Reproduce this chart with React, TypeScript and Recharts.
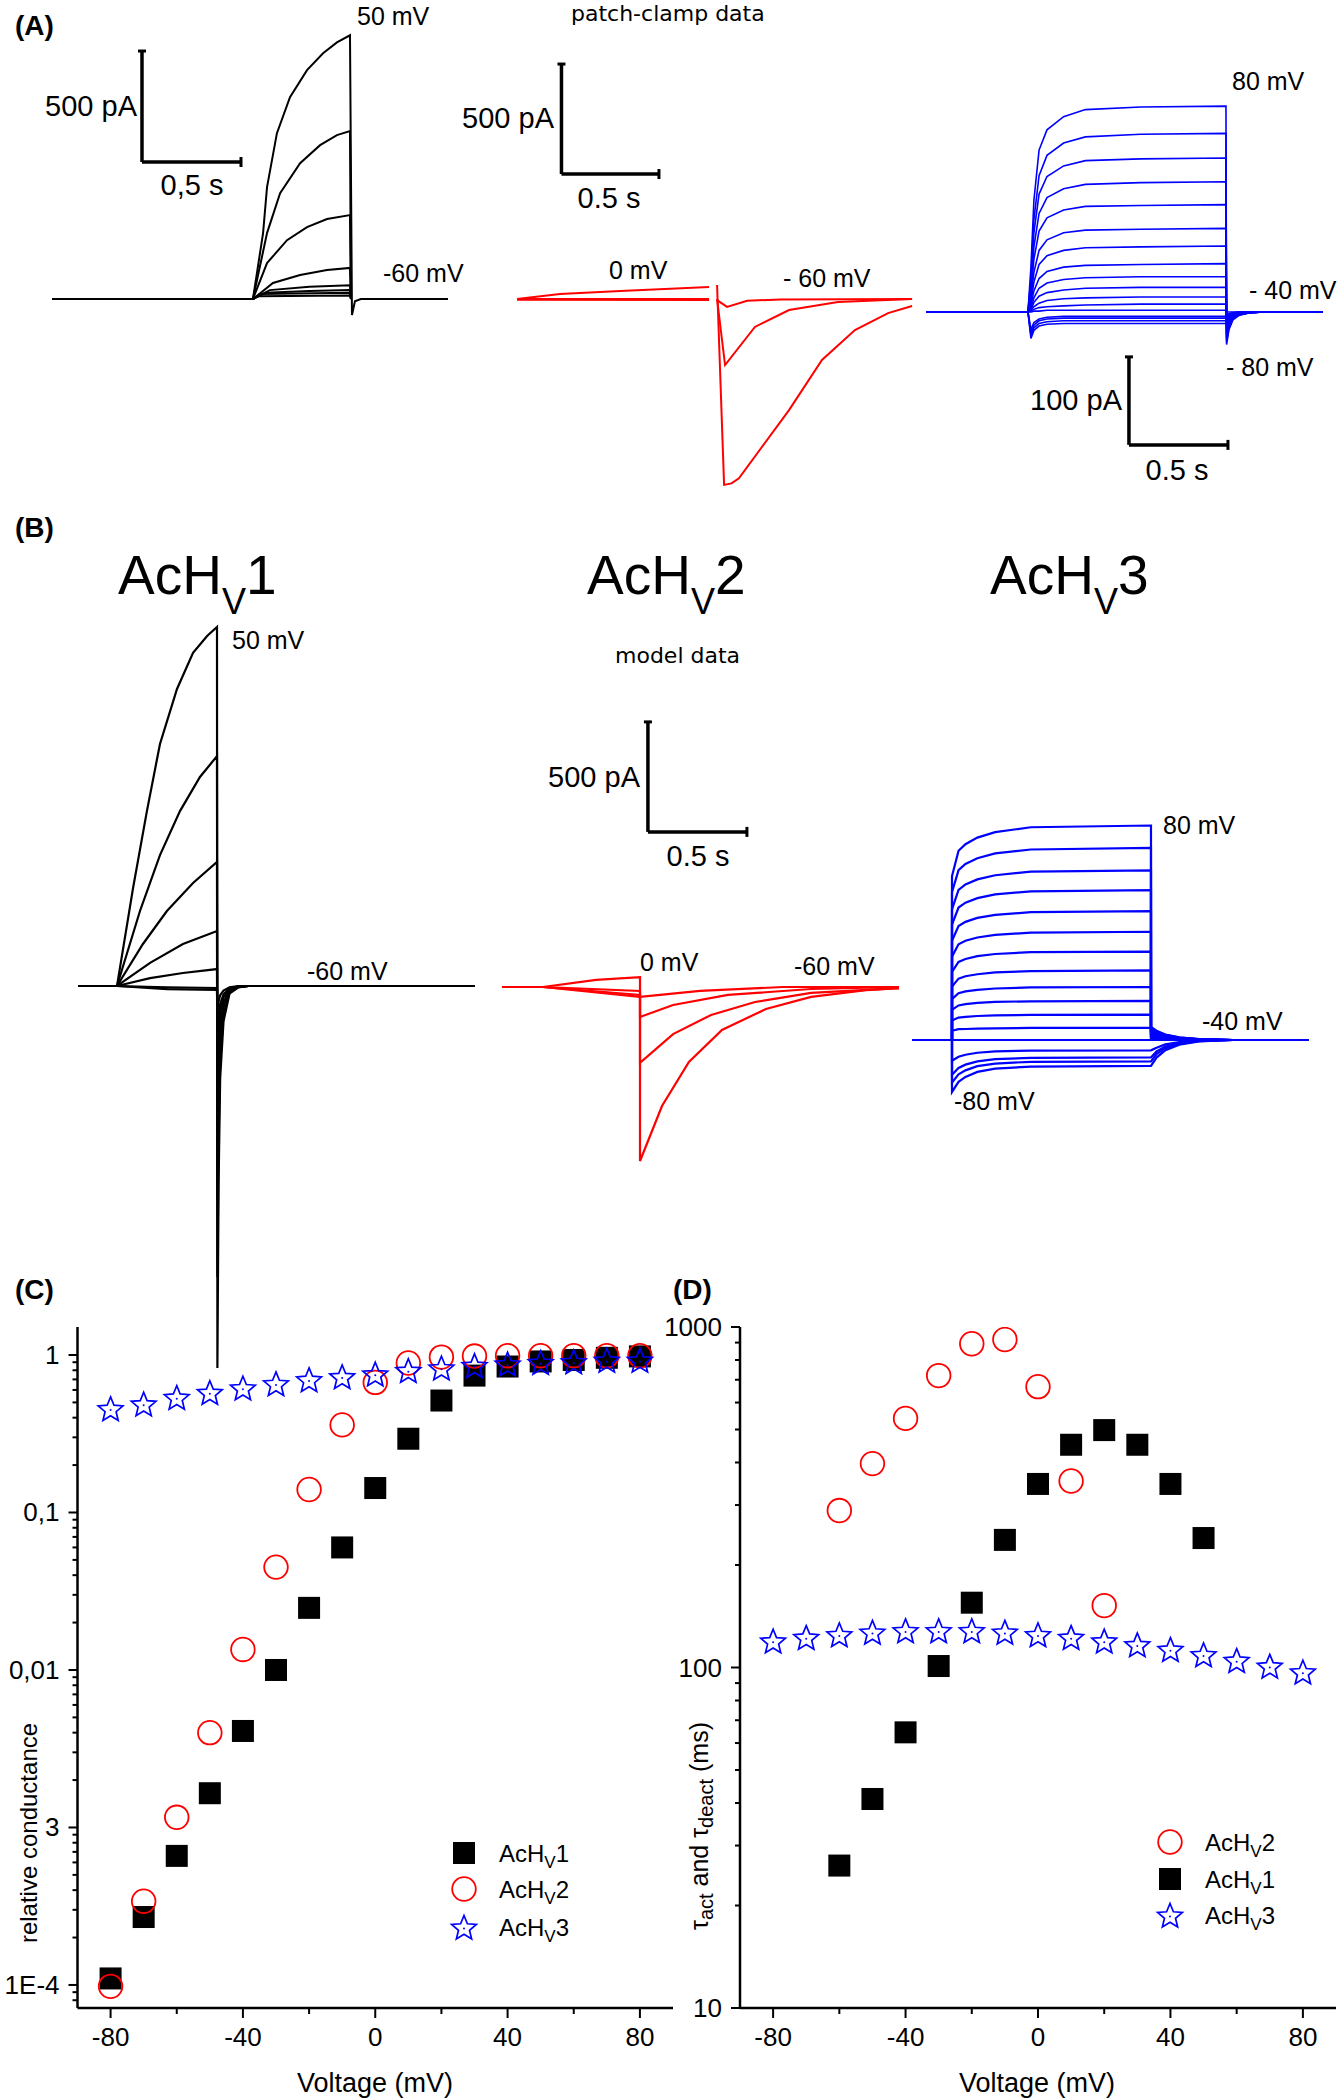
import React from 'react';
import {
  LineChart,
  Line,
  XAxis,
  YAxis,
  ReferenceLine,
  ScatterChart,
  Scatter,
} from 'recharts';

const FONT = 'Arial, "Liberation Sans", Helvetica, sans-serif';
const NOTE_FONT = '"DejaVu Sans", Verdana, sans-serif';
const BLACK = '#000000';
const RED = '#ff0000';
const BLUE = '#0000ff';

type Pt = [number, number | null];

// ---------- (C) relative conductance ----------
const VOLTAGES = [-80, -70, -60, -50, -40, -30, -20, -10, 0, 10, 20, 30, 40, 50, 60, 70, 80];
const G_ACHV1 = [1.1e-4, 2.7e-4, 6.6e-4, 1.65e-3, 4.1e-3, 0.01, 0.0248, 0.06, 0.143, 0.294, 0.514, 0.74, 0.845, 0.91, 0.93, 0.96, 0.98];
const G_ACHV2 = [0.98e-4, 3.4e-4, 1.16e-3, 4.0e-3, 0.0135, 0.045, 0.14, 0.36, 0.67, 0.89, 0.97, 0.985, 0.99, 0.99, 0.99, 0.99, 0.99];
const G_ACHV3 = [0.458, 0.49, 0.54, 0.58, 0.62, 0.66, 0.7, 0.73, 0.76, 0.8, 0.83, 0.86, 0.88, 0.9, 0.91, 0.93, 0.93];

// ---------- (D) time constants (ms) ----------
const TAU_V1 = [-60, -50, -40, -30, -20, -10, 0, 10, 20, 30, 40, 50];
const TAU_ACHV1 = [26.2, 41.1, 64.5, 101, 155, 237, 346, 451, 498, 451, 346, 240];
const TAU_V2 = [-60, -50, -40, -30, -20, -10, 0, 10, 20];
const TAU_ACHV2 = [289, 397, 539, 720, 893, 919, 668, 353, 152];
const TAU_ACHV3 = [119.8, 122.8, 125, 127.2, 128.5, 128.5, 128.5, 127.2, 125, 122.8, 119.8, 116.8, 113.2, 109.2, 105.1, 101.1, 97.2];

const X_TICKS = [-80, -60, -40, -20, 0, 20, 40, 60, 80];
const X_LABELLED = [-80, -40, 0, 40, 80];
const C_Y_LABELS: Record<number, string> = { [-4]: '1E-4', [-3]: '3', [-2]: '0,01', [-1]: '0,1', 0: '1' };
const D_Y_LABELS: Record<number, string> = { 1: '10', 2: '100', 3: '1000' };

// ---------- (A) patch-clamp traces: t in s, current in pA ----------
const A1_TRACES: Pt[][] = [
  [[0, 0], [1.015, 0], [1.066, 297], [1.086, 504], [1.136, 747], [1.202, 909], [1.288, 1031], [1.369, 1107], [1.439, 1156], [1.505, 1188], [1.515, -72], [1.53, -10], [1.56, 0], [2.0, 0]],
  [[1.015, 0], [1.086, 297], [1.152, 477], [1.253, 612], [1.354, 693], [1.439, 738], [1.505, 756], [1.51, 0]],
  [[1.015, 0], [1.086, 162], [1.187, 265], [1.288, 324], [1.389, 360], [1.505, 378], [1.51, 0]],
  [[1.015, 0], [1.116, 72], [1.253, 108], [1.389, 131], [1.505, 140], [1.51, 0]],
  [[1.015, 0], [1.1, 40], [1.3, 55], [1.505, 62], [1.51, 0]],
  [[1.015, 0], [1.08, 28], [1.3, 36], [1.505, 40], [1.51, 0]],
  [[1.015, 0], [1.05, 22], [1.505, 28], [1.51, 0]],
  [[1.015, 0], [1.04, 12], [1.505, 16], [1.51, 0]],
];

const A2_TRACES: Pt[][] = [
  [[0, 0], [0.22, 23], [0.53, 36], [0.985, 55], [1.0, null], [1.026, 64], [1.062, -845], [1.1, -838], [1.138, -815], [1.395, -505], [1.564, -277], [1.733, -141], [1.903, -64], [2.026, -32]],
  [[0, 0], [0.985, 0], [1.0, null], [1.026, 0], [1.067, -300], [1.22, -127], [1.395, -50], [1.646, -14], [2.026, 0]],
  [[0, -3], [0.985, -5], [1.0, null], [1.026, -5], [1.077, -36], [1.18, -8], [1.35, -2], [2.026, 0]],
];

const A3_PULSE_T = [0.515, 0.53, 0.545, 0.571, 0.611, 0.695, 0.805, 1.085, 1.515];
const A3_PULSE = [
  [0, 51, 127, 184, 207, 222, 230, 233, 234],
  [0, 40, 105, 155, 178, 192, 199, 202, 203],
  [0, 34, 90, 134, 154, 166, 172, 174, 175],
  [0, 28, 74, 112, 130, 140, 145, 147, 148],
  [0, 22, 60, 92, 107, 116, 120, 121, 122],
  [0, 16, 45, 70, 82, 90, 93, 94, 95],
  [0, 12, 34, 54, 64, 70, 73, 74, 75],
  [0, 8, 24, 38, 46, 51, 53, 54, 55],
  [0, 5, 16, 27, 33, 37, 39, 40, 40],
  [0, 3, 11, 18, 22, 25, 27, 28, 28],
  [0, 2, 6, 10, 13, 15, 16, 17, 17],
  [0, 1, 3, 5, 6, 7, 8, 9, 9],
  [0, 0, 1, 1, 2, 2, 2, 2, 2],
  [0, -20, -12, -8, -6, -5, -5, -5, -5],
  [0, -24, -15, -10, -8, -7, -7, -7, -7],
  [0, -27, -18, -13, -11, -10, -10, -10, -10],
  [0, -30, -21, -16, -14, -13, -13, -13, -13],
];
const A3_TAIL_T = [1.518, 1.53, 1.55, 1.58, 1.63, 1.7, 2.005];
const A3_TAIL = [
  [-37, -20, -9, -4, -1, 0, 0],
  [-34, -18, -8, -3, -1, 0, 0],
  [-31, -16, -7, -3, -1, 0, 0],
  [-28, -14, -6, -3, -1, 0, 0],
  [-25, -12, -5, -2, 0, 0, 0],
  [-22, -10, -4, -2, 0, 0, 0],
  [-19, -9, -4, -1, 0, 0, 0],
  [-16, -8, -3, -1, 0, 0, 0],
  [-13, -6, -3, -1, 0, 0, 0],
  [-10, -5, -2, -1, 0, 0, 0],
  [-7, -3, -1, 0, 0, 0, 0],
  [-4, -2, -1, 0, 0, 0, 0],
  [0, 0, 0, 0, 0, 0, 0],
  [-4, -3, -2, -1, 0, 0, 0],
  [-7, -5, -3, -1, 0, 0, 0],
  [-10, -7, -4, -2, 0, 0, 0],
  [-13, -9, -5, -2, -1, 0, 0],
];

// ---------- (B) model traces ----------
const B1_PULSE: Pt[][] = [
  [[0.197, 0], [0.278, 445], [0.348, 795], [0.414, 1100], [0.5, 1350], [0.581, 1514], [0.652, 1591], [0.702, 1632]],
  [[0.197, 0], [0.313, 341], [0.414, 595], [0.515, 795], [0.616, 950], [0.702, 1045]],
  [[0.197, 0], [0.328, 191], [0.449, 341], [0.581, 468], [0.702, 564]],
  [[0.197, 0], [0.364, 105], [0.53, 191], [0.702, 250]],
  [[0.197, 0], [0.364, 36], [0.53, 59], [0.702, 77]],
  [[0.197, 0], [0.45, -6], [0.702, -9]],
  [[0.197, 0], [0.45, -14], [0.702, -18]],
];
const B1_TAIL_T = [0.704, 0.71, 0.718, 0.735, 0.765, 0.81, 0.86];
const B1_TAIL = [
  [-1736, -900, -420, -160, -35, -6, 0],
  [-1323, -700, -330, -130, -30, -5, 0],
  [-973, -520, -250, -100, -24, -4, 0],
  [-654, -360, -180, -75, -18, -3, 0],
  [-391, -230, -120, -52, -13, -2, 0],
  [-245, -150, -82, -38, -10, -2, 0],
  [-109, -70, -42, -21, -6, -1, 0],
];

const B2_PULSE: Pt[][] = [
  [[0.207, 0], [0.475, 32], [0.697, 45]],
  [[0.207, 0], [0.697, -18]],
  [[0.207, 0], [0.697, -36]],
  [[0.207, 0], [0.697, -45]],
];
const B2_TAIL: Pt[][] = [
  [[0.697, -791], [0.808, -541], [0.944, -341], [1.111, -195], [1.333, -100], [1.561, -45], [1.838, -14], [2.005, -5]],
  [[0.697, -345], [0.864, -214], [1.056, -127], [1.278, -68], [1.561, -27], [2.005, -5]],
  [[0.697, -136], [0.864, -82], [1.141, -36], [1.561, -9], [2.005, 0]],
  [[0.697, -45], [1.0, -18], [1.419, 0], [2.005, 0]],
];

const B3_PULSE_T = [0.202, 0.235, 0.27, 0.33, 0.42, 0.6, 1.207];
const B3_PULSE = [
  [745, 860, 890, 920, 945, 967, 975],
  [672, 772, 800, 826, 848, 866, 873],
  [594, 682, 707, 730, 749, 765, 771],
  [524, 602, 624, 645, 662, 676, 681],
  [451, 518, 537, 555, 569, 581, 586],
  [379, 435, 451, 466, 478, 488, 492],
  [310, 355, 368, 381, 391, 399, 402],
  [243, 279, 290, 299, 307, 313, 316],
  [186, 213, 221, 228, 234, 239, 241],
  [137, 157, 163, 169, 173, 176, 178],
  [89, 102, 105, 109, 112, 114, 115],
  [42, 49, 50, 52, 53, 55, 55],
  [0, 0, 0, 0, 0, 0, 0],
  [-94, -76, -67, -58, -52, -48, -47],
  [-158, -127, -112, -97, -87, -81, -79],
  [-194, -156, -138, -119, -107, -99, -97],
  [-236, -190, -168, -145, -130, -121, -118],
];
const B3_TAIL_T = [1.207, 1.235, 1.28, 1.35, 1.45, 1.62, 2.005];
const B3_TAIL = [
  [59, 42, 25, 12, 4, 0, 0],
  [54, 38, 23, 11, 4, 0, 0],
  [49, 35, 21, 10, 3, 0, 0],
  [44, 31, 18, 9, 3, 0, 0],
  [39, 27, 16, 8, 2, 0, 0],
  [34, 24, 14, 7, 2, 0, 0],
  [29, 20, 12, 6, 2, 0, 0],
  [24, 17, 10, 5, 1, 0, 0],
  [19, 13, 8, 4, 1, 0, 0],
  [14, 10, 6, 3, 1, 0, 0],
  [9, 6, 4, 2, 0, 0, 0],
  [4, 3, 2, 1, 0, 0, 0],
  [0, 0, 0, 0, 0, 0, 0],
  [-47, -35, -20, -9, -3, 0, 0],
  [-79, -52, -30, -14, -4, 0, 0],
  [-97, -64, -37, -17, -5, 0, 0],
  [-118, -80, -46, -21, -6, 0, 0],
];

// scale bars (corner in s / pA, lengths in s / pA)
const A1_BAR = { t: 0.4545, i: 617, dt: 0.5, di: 500 };
const A2_BAR = { t: 0.228, i: 568, dt: 0.5, di: 500 };
const A3_BAR = { t: 1.025, i: -151, dt: 0.5, di: 100 };
const B2_BAR = { t: 0.737, i: 705, dt: 0.5, di: 500 };

// page placement and pixel scale of each trace panel
const A1_FRAME = { box: { left: 40, top: 20, width: 420, height: 310 }, x0: 52, y0: 299, pxPerS: 198, pxPerPA: 0.222 };
const A2_FRAME = { box: { left: 505, top: 55, width: 420, height: 440 }, x0: 517, y0: 299, pxPerS: 195, pxPerPA: 0.22 };
const A3_FRAME = { box: { left: 915, top: 95, width: 420, height: 360 }, x0: 926, y0: 312, pxPerS: 198, pxPerPA: 0.88 };
const B1_FRAME = { box: { left: 65, top: 615, width: 420, height: 765 }, x0: 78, y0: 986, pxPerS: 198, pxPerPA: 0.22 };
const B2_FRAME = { box: { left: 490, top: 710, width: 420, height: 465 }, x0: 502, y0: 987, pxPerS: 198, pxPerPA: 0.22 };
const B3_FRAME = { box: { left: 900, top: 815, width: 420, height: 290 }, x0: 912, y0: 1040, pxPerS: 198, pxPerPA: 0.22 };

const zip = (ts: number[], vs: number[]): Pt[] => ts.map((t, k) => [t, vs[k]]);
const toRows = (pts: Pt[]) => pts.map(([t, i]) => ({ t, i }));

const A3_TRACES: Pt[][] = A3_PULSE.map((row, k) => [[0, 0], ...zip(A3_PULSE_T, row), ...zip(A3_TAIL_T, A3_TAIL[k])]);
const B1_TRACES: Pt[][] = B1_PULSE.map((p, k) => [[0, 0], ...p, ...zip(B1_TAIL_T, B1_TAIL[k]), [2.005, 0]]);
const B2_TRACES: Pt[][] = B2_PULSE.map((p, k) => [[0, 0], ...p, ...B2_TAIL[k]]);
const B3_TRACES: Pt[][] = B3_PULSE.map((row, k) => [[0, 0], [0.202, 0], ...zip(B3_PULSE_T, row), ...zip(B3_TAIL_T, B3_TAIL[k])]);

const logTicks = (lo: number, hi: number) => {
  const out: number[] = [];
  for (let e = Math.floor(Math.log10(lo)); e <= Math.ceil(Math.log10(hi)); e++) {
    for (let m = 1; m < 10; m++) {
      const v = m * Math.pow(10, e);
      if (v >= lo * 0.999 && v <= hi * 1.001) out.push(v);
    }
  }
  return out;
};

// ---------- markers ----------
const square = (cx: number, cy: number) => <rect x={cx - 11} y={cy - 11} width={22} height={22} fill={BLACK} />;
const ring = (cx: number, cy: number) => (
  <circle cx={cx} cy={cy} r={11.8} fill="none" stroke={RED} strokeWidth={1.8} />
);
const star = (cx: number, cy: number) => {
  const pts: string[] = [];
  for (let k = 0; k < 10; k++) {
    const r = k % 2 === 0 ? 13 : 5.8;
    const a = -Math.PI / 2 + (k * Math.PI) / 5;
    pts.push(`${(cx + r * Math.cos(a)).toFixed(2)},${(cy + 1.5 + r * Math.sin(a)).toFixed(2)}`);
  }
  return (
    <g>
      <polygon points={pts.join(' ')} fill="none" stroke={BLUE} strokeWidth={1.7} strokeLinejoin="miter" />
      <circle cx={cx} cy={cy + 1.5} r={1} fill={BLUE} />
    </g>
  );
};

function TracePanel({ frame, traces, color, width, bar }: any) {
  const { box, x0, y0, pxPerS, pxPerPA } = frame;
  const xDomain = [(box.left - x0) / pxPerS, (box.left + box.width - x0) / pxPerS];
  const yDomain = [(y0 - box.top - box.height) / pxPerPA, (y0 - box.top) / pxPerPA];
  const capT = 4 / pxPerS;
  const capI = 5 / pxPerPA;
  return (
    <div style={{ position: 'absolute', left: box.left, top: box.top }}>
      <LineChart width={box.width} height={box.height} margin={{ top: 0, right: 0, bottom: 0, left: 0 }}>
        <XAxis type="number" dataKey="t" domain={xDomain} allowDataOverflow hide />
        <YAxis type="number" domain={yDomain} allowDataOverflow hide />
        {traces.map((tr: Pt[], k: number) => (
          <Line
            key={k}
            data={toRows(tr)}
            dataKey="i"
            stroke={color}
            strokeWidth={width}
            dot={false}
            activeDot={false}
            isAnimationActive={false}
          />
        ))}
        {bar
          ? [
              <ReferenceLine key="v" segment={[{ x: bar.t, y: bar.i }, { x: bar.t, y: bar.i + bar.di }]} stroke={BLACK} strokeWidth={3.5} />,
              <ReferenceLine key="h" segment={[{ x: bar.t, y: bar.i }, { x: bar.t + bar.dt, y: bar.i }]} stroke={BLACK} strokeWidth={3.5} />,
              <ReferenceLine key="cv" segment={[{ x: bar.t - capT, y: bar.i + bar.di }, { x: bar.t + capT, y: bar.i + bar.di }]} stroke={BLACK} strokeWidth={3} />,
              <ReferenceLine key="ch" segment={[{ x: bar.t + bar.dt, y: bar.i - capI }, { x: bar.t + bar.dt, y: bar.i + capI }]} stroke={BLACK} strokeWidth={3} />,
            ]
          : null}
      </LineChart>
    </div>
  );
}

const xTick = (props: any) => {
  const { x, y, payload } = props;
  const major = X_LABELLED.includes(payload.value);
  return (
    <g>
      <line x1={x} x2={x} y1={y} y2={y + (major ? 10 : 6)} stroke={BLACK} strokeWidth={2} />
      {major ? (
        <text x={x} y={y + 38} textAnchor="middle" fontSize={26} fontFamily={FONT} fill={BLACK}>
          {payload.value}
        </text>
      ) : null}
    </g>
  );
};

const makeYTick = (labels: Record<number, string>) => (props: any) => {
  const { x, y, payload } = props;
  const lg = Math.log10(payload.value);
  const e = Math.round(lg);
  const major = Math.abs(lg - e) < 1e-6;
  return (
    <g>
      <line x1={x} x2={x - (major ? 9 : 5)} y1={y} y2={y} stroke={BLACK} strokeWidth={2} />
      {major ? (
        <text x={x - 18} y={y + 9} textAnchor="end" fontSize={26} fontFamily={FONT} fill={BLACK}>
          {labels[e]}
        </text>
      ) : null}
    </g>
  );
};

const AXIS = { stroke: BLACK, strokeWidth: 2.5 };
const pts = (xs: number[], ys: number[]) => xs.map((v, k) => ({ v, y: ys[k] }));

function PanelC() {
  const yDomain = [7.14e-5, 1.506];
  return (
    <div style={{ position: 'absolute', left: 0, top: 1300 }}>
      <ScatterChart width={700} height={800} margin={{ top: 27, right: 27, bottom: 32, left: 7.5 }}>
        <XAxis type="number" dataKey="v" domain={[-90, 90]} ticks={X_TICKS} interval={0} tick={xTick}
          tickLine={false} tickSize={0} tickMargin={0} axisLine={AXIS} height={60} allowDataOverflow />
        <YAxis type="number" dataKey="y" scale="log" domain={yDomain} ticks={logTicks(yDomain[0], yDomain[1])}
          interval={0} tick={makeYTick(C_Y_LABELS)} tickLine={false} tickSize={0} tickMargin={0}
          axisLine={AXIS} width={70} allowDataOverflow />
        <Scatter data={pts(VOLTAGES, G_ACHV1)} shape={(p: any) => square(p.cx, p.cy)} isAnimationActive={false} />
        <Scatter data={pts(VOLTAGES, G_ACHV2)} shape={(p: any) => ring(p.cx, p.cy)} isAnimationActive={false} />
        <Scatter data={pts(VOLTAGES, G_ACHV3)} shape={(p: any) => star(p.cx, p.cy)} isAnimationActive={false} />
      </ScatterChart>
    </div>
  );
}

function PanelD() {
  const yDomain = [10, 1000];
  return (
    <div style={{ position: 'absolute', left: 640, top: 1300 }}>
      <ScatterChart width={704} height={800} margin={{ top: 27, right: 8, bottom: 32, left: 5 }}>
        <XAxis type="number" dataKey="v" domain={[-90, 90]} ticks={X_TICKS} interval={0} tick={xTick}
          tickLine={false} tickSize={0} tickMargin={0} axisLine={AXIS} height={60} allowDataOverflow />
        <YAxis type="number" dataKey="y" scale="log" domain={yDomain} ticks={logTicks(yDomain[0], yDomain[1])}
          interval={0} tick={makeYTick(D_Y_LABELS)} tickLine={false} tickSize={0} tickMargin={0}
          axisLine={AXIS} width={95} allowDataOverflow />
        <Scatter data={pts(TAU_V1, TAU_ACHV1)} shape={(p: any) => square(p.cx, p.cy)} isAnimationActive={false} />
        <Scatter data={pts(TAU_V2, TAU_ACHV2)} shape={(p: any) => ring(p.cx, p.cy)} isAnimationActive={false} />
        <Scatter data={pts(VOLTAGES, TAU_ACHV3)} shape={(p: any) => star(p.cx, p.cy)} isAnimationActive={false} />
      </ScatterChart>
    </div>
  );
}

const T = ({ x, y, size = 25, anchor = 'start', bold = false, family = FONT, children }: any) => (
  <text x={x} y={y} fontSize={size} textAnchor={anchor} fontWeight={bold ? 'bold' : 'normal'} fontFamily={family} fill={BLACK}>
    {children}
  </text>
);

const Title = ({ x, n }: { x: number; n: string }) => (
  <text x={x} y={594} fontSize={55} fontFamily={FONT} fill={BLACK}>
    AcH<tspan fontSize={36} dy={20}>V</tspan>
    <tspan dy={-20}>{n}</tspan>
  </text>
);

const LegendRow = ({ x, y, mark, n }: any) => (
  <g>
    {mark(x, y)}
    <text x={x + 35} y={y + 8.5} fontSize={24} fontFamily={FONT} fill={BLACK}>
      AcH<tspan fontSize={17} dy={6}>V</tspan>
      <tspan dy={-6}>{n}</tspan>
    </text>
  </g>
);

function Overlay() {
  return (
    <svg width={1344} height={2100} style={{ position: 'absolute', left: 0, top: 0, pointerEvents: 'none' }}>
      <T x={15} y={35} size={28} bold>(A)</T>
      <T x={15} y={537} size={28} bold>(B)</T>
      <T x={15} y={1299} size={28} bold>(C)</T>
      <T x={673} y={1299} size={28} bold>(D)</T>

      <T x={571} y={21} size={22} family={NOTE_FONT}>patch-clamp data</T>
      <T x={615} y={663} size={22} family={NOTE_FONT}>model data</T>

      <T x={137} y={116} size={29} anchor="end">500 pA</T>
      <T x={192} y={195} size={29} anchor="middle">0,5 s</T>
      <T x={357} y={25}>50 mV</T>
      <T x={383} y={282}>-60 mV</T>

      <T x={554} y={128} size={29} anchor="end">500 pA</T>
      <T x={609} y={208} size={29} anchor="middle">0.5 s</T>
      <T x={609} y={279}>0 mV</T>
      <T x={783} y={287}>- 60 mV</T>

      <T x={1232} y={90}>80 mV</T>
      <T x={1249} y={299}>- 40 mV</T>
      <T x={1226} y={376}>- 80 mV</T>
      <T x={1122} y={410} size={29} anchor="end">100 pA</T>
      <T x={1177} y={480} size={29} anchor="middle">0.5 s</T>

      <Title x={118} n="1" />
      <Title x={587} n="2" />
      <Title x={990} n="3" />
      <T x={232} y={649}>50 mV</T>
      <T x={307} y={980}>-60 mV</T>
      <T x={640} y={787} size={29} anchor="end">500 pA</T>
      <T x={698} y={866} size={29} anchor="middle">0.5 s</T>
      <T x={640} y={971}>0 mV</T>
      <T x={794} y={975}>-60 mV</T>
      <T x={1163} y={834}>80 mV</T>
      <T x={1202} y={1030}>-40 mV</T>
      <T x={954} y={1110}>-80 mV</T>

      <text x={37} y={1833} transform="rotate(-90 37 1833)" textAnchor="middle" fontSize={24} fontFamily={FONT} fill={BLACK}>
        relative conductance
      </text>
      <T x={375} y={2092} size={27} anchor="middle">Voltage (mV)</T>
      <text x={708} y={1826} transform="rotate(-90 708 1826)" textAnchor="middle" fontSize={25} fontFamily={FONT} fill={BLACK}>
        τ<tspan fontSize={20} dy={5}>act</tspan>
        <tspan dy={-5}> and τ</tspan>
        <tspan fontSize={20} dy={5}>deact</tspan>
        <tspan dy={-5}> (ms)</tspan>
      </text>
      <T x={1037} y={2092} size={27} anchor="middle">Voltage (mV)</T>

      <LegendRow x={464} y={1853} mark={square} n="1" />
      <LegendRow x={464} y={1889} mark={ring} n="2" />
      <LegendRow x={464} y={1927} mark={star} n="3" />
      <LegendRow x={1170} y={1842} mark={ring} n="2" />
      <LegendRow x={1170} y={1879} mark={square} n="1" />
      <LegendRow x={1170} y={1915} mark={star} n="3" />
    </svg>
  );
}

export default function App() {
  return (
    <div style={{ position: 'absolute', left: 0, top: 0, width: 1344, height: 2100, background: '#ffffff', overflow: 'hidden' }}>
      <PanelC />
      <PanelD />
      <TracePanel frame={A1_FRAME} traces={A1_TRACES} color={BLACK} width={2} bar={A1_BAR} />
      <TracePanel frame={A2_FRAME} traces={A2_TRACES} color={RED} width={2} bar={A2_BAR} />
      <TracePanel frame={A3_FRAME} traces={A3_TRACES} color={BLUE} width={1.6} bar={A3_BAR} />
      <TracePanel frame={B1_FRAME} traces={B1_TRACES} color={BLACK} width={2.2} />
      <TracePanel frame={B2_FRAME} traces={B2_TRACES} color={RED} width={2.2} bar={B2_BAR} />
      <TracePanel frame={B3_FRAME} traces={B3_TRACES} color={BLUE} width={2.2} />
      <Overlay />
    </div>
  );
}
